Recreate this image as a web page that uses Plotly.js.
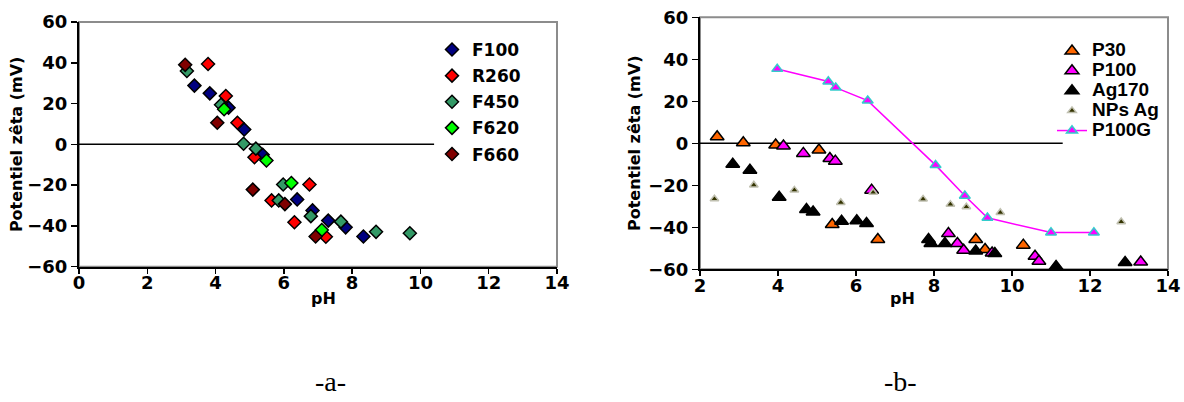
<!DOCTYPE html>
<html><head><meta charset="utf-8">
<script src="https://cdn.plot.ly/plotly-3.0.1.min.js"></script>
<style>html,body{margin:0;padding:0;background:#fff}#chart{width:1184px;height:402px}</style>
</head><body><div id="chart"></div>
<script>
// ---------- Chart (a): zeta potential vs pH ----------
const F100_pH = [3.38, 3.83, 4.38, 4.84, 5.38, 6.39, 6.84, 7.30, 7.81, 8.33];
const F100_z  = [28.8, 25.0, 18.0, 7.3, -5.1, -27.0, -32.4, -37.4, -40.7, -45.2];
const R260_pH = [3.78, 4.30, 4.64, 5.14, 5.64, 6.31, 6.75, 7.23];
const R260_z  = [39.4, 23.7, 10.6, -6.3, -27.5, -38.2, -19.7, -45.3];
const F450_pH = [3.16, 4.16, 4.82, 5.18, 5.85, 5.98, 6.79, 7.67, 8.70, 9.69];
const F450_z  = [36.0, 19.4, 0.3, -2.1, -27.5, -19.7, -35.2, -37.9, -42.9, -43.6];
const F620_pH = [4.25, 5.49, 6.22, 7.11];
const F620_z  = [17.2, -7.9, -19.0, -42.0];
const F660_pH = [3.11, 4.05, 5.09, 6.03, 6.93];
const F660_z  = [39.0, 10.6, -22.2, -29.3, -45.2];

// ---------- Chart (b) ----------
const P30_pH = [2.44, 3.11, 3.94, 5.05, 5.39, 6.56, 9.07, 9.31, 10.29];
const P30_z  = [3.1, 0.3, -0.8, -3.2, -38.7, -45.8, -45.8, -50.6, -48.5];
const P100_pH = [4.14, 4.65, 5.33, 5.47, 6.40, 8.37, 8.60, 8.76, 9.49, 10.59, 10.69, 13.30];
const P100_z  = [-1.3, -4.8, -7.2, -8.5, -22.3, -43.0, -47.7, -50.9, -52.2, -53.8, -56.2, -56.5];
const Ag170_pH = [2.84, 3.28, 4.03, 4.73, 4.90, 5.63, 6.02, 6.27, 7.86, 7.92, 8.28, 9.07, 9.56, 11.13, 12.90];
const Ag170_z  = [-10.0, -12.8, -25.7, -31.5, -32.7, -37.1, -36.9, -38.2, -45.8, -47.7, -47.7, -51.3, -52.5, -58.6, -56.8];
const NPsAg_pH = [2.37, 3.38, 4.42, 5.61, 6.44, 7.72, 8.42, 8.83, 9.70, 12.80];
const NPsAg_z  = [-26.5, -19.9, -22.3, -28.2, -23.4, -26.6, -29.1, -30.3, -33.0, -37.4];
const P100G_pH = [3.98, 5.29, 5.48, 6.30, 8.04, 8.79, 9.37, 11.00, 12.10];
const P100G_z  = [35.4, 29.4, 26.5, 20.3, -10.4, -25.0, -35.5, -42.5, -42.5];

// zero reference lines
const zeroA_pH = [0, 10.4];
const zeroB_pH = [2, 11.3];
const zero_z = [0, 0];

const yTitle = 'Potentiel zêta (mV)';
const xTitle = 'pH';
const labelA = '-a-';
const labelB = '-b-';

const tickFont = {family: 'DejaVu Sans', size: 18, weight: 'bold', color: '#000'};
const titleFont = {family: 'DejaVu Sans', size: 16, weight: 'bold', color: '#000'};

function diam(x, y, name, color) {
  return {x, y, name, legendgroup: name, type: 'scatter', mode: 'markers', xaxis: 'x', yaxis: 'y', legend: 'legend',
    marker: {symbol: 'diamond', size: 10, color, line: {color: '#000', width: 1.5}}, hoverinfo: 'x+y+name'};
}
function tri(x, y, name, color, size, lineColor) {
  return {x, y, name: '<span style="font-size:19px">' + name + '</span>', type: 'scatter', mode: 'markers',
    xaxis: 'x2', yaxis: 'y2', legend: 'legend2',
    marker: {symbol: 'triangle-up', size, color, line: {color: lineColor, width: 1.5}}, hoverinfo: 'x+y'};
}

const traces = [
  {x: zeroA_pH, y: zero_z, type: 'scatter', mode: 'lines', line: {color: '#000', width: 1.5}, showlegend: false, hoverinfo: 'skip', xaxis: 'x', yaxis: 'y'},
  {x: zeroB_pH, y: zero_z, type: 'scatter', mode: 'lines', line: {color: '#000', width: 1.5}, showlegend: false, hoverinfo: 'skip', xaxis: 'x2', yaxis: 'y2'},
  diam(F100_pH, F100_z, 'F100', '#000080'),
  diam(R260_pH, R260_z, 'R260', '#FF0000'),
  diam(F450_pH, F450_z, 'F450', '#339966'),
  diam(F620_pH, F620_z, 'F620', '#00FF00'),
  diam(F660_pH, F660_z, 'F660', '#800000'),
  tri(P30_pH, P30_z, 'P30', '#FF6600', 12, '#000'),
  tri(P100_pH, P100_z, 'P100', '#FF00FF', 12, '#000'),
  tri(Ag170_pH, Ag170_z, 'Ag170', '#000000', 12, '#000'),
  tri(NPsAg_pH, NPsAg_z, 'NPs Ag', '#333300', 7.5, '#C0C0B0'),
  Object.assign(tri(P100G_pH, P100G_z, 'P100G', '#FF00FF', 9.5, '#33CCCC'), {mode: 'lines+markers', line: {color: '#FF00FF', width: 1.5}})
];

const axCommon = {showgrid: false, zeroline: false, showline: true, linecolor: '#000', linewidth: 2,
  ticks: 'outside', ticklen: 6, tickwidth: 1.5, tickcolor: '#000', tickfont: tickFont, dtick: 20};

const layout = {
  width: 1184, height: 402,
  margin: {l: 0, r: 0, t: 0, b: 0},
  paper_bgcolor: '#fff', plot_bgcolor: '#fff',
  xaxis: Object.assign({}, axCommon, {domain: [79/1184, 557/1184], range: [0, 14], dtick: 2, tick0: 0, ticklen: 5, anchor: 'y', ticklabelstandoff: -6}),
  yaxis: Object.assign({}, axCommon, {domain: [1 - 266.7/402, 1 - 22/402], range: [-60, 60], tick0: -60, anchor: 'x',
    title: {text: yTitle, font: titleFont, standoff: 1}}),
  xaxis2: Object.assign({}, axCommon, {domain: [700/1184, 1168/1184], range: [2, 14], dtick: 2, tick0: 2, ticklen: 5, anchor: 'y2', ticklabelstandoff: -6}),
  yaxis2: Object.assign({}, axCommon, {domain: [1 - 269.3/402, 1 - 17.3/402], range: [-60, 60], tick0: -60, anchor: 'x2',
    title: {text: yTitle, font: titleFont, standoff: 4}}),
  legend: {x: 432/1184, xanchor: 'left', y: 1 - 32/402, yanchor: 'top', bgcolor: 'rgba(0,0,0,0)', borderwidth: 0,
    font: {family: 'DejaVu Sans', size: 17, weight: 'bold', color: '#000'}, traceorder: 'grouped', tracegroupgap: 1},
  legend2: {x: 1052/1184, xanchor: 'left', y: 1 - 36/402, yanchor: 'top', bgcolor: 'rgba(0,0,0,0)', borderwidth: 0,
    font: {family: 'Liberation Sans', size: 13, weight: 'bold', color: '#000'}, traceorder: 'normal'},
  shapes: [
    {type: 'rect', xref: 'x domain', yref: 'y domain', x0: 0, x1: 1, y0: 0, y1: 1, line: {color: '#8c8c8c', width: 2}, layer: 'below'},
    {type: 'rect', xref: 'x2 domain', yref: 'y2 domain', x0: 0, x1: 1, y0: 0, y1: 1, line: {color: '#8c8c8c', width: 2}, layer: 'below'}
  ],
  annotations: [
    {text: xTitle, xref: 'paper', yref: 'paper', x: 323/1184, y: 1 - 298/402, showarrow: false, xanchor: 'center', yanchor: 'middle', font: titleFont},
    {text: xTitle, xref: 'paper', yref: 'paper', x: 902/1184, y: 1 - 298/402, showarrow: false, xanchor: 'center', yanchor: 'middle', font: titleFont},
    {text: labelA, xref: 'paper', yref: 'paper', x: 330/1184, y: 1 - 381/402, showarrow: false, xanchor: 'center', yanchor: 'middle',
      font: {family: 'Liberation Serif', size: 28, color: '#000'}},
    {text: labelB, xref: 'paper', yref: 'paper', x: 900/1184, y: 1 - 381/402, showarrow: false, xanchor: 'center', yanchor: 'middle',
      font: {family: 'Liberation Serif', size: 28, color: '#000'}}
  ]
};

Plotly.newPlot('chart', traces, layout, {displayModeBar: false, staticPlot: true});
</script>
</body></html>
